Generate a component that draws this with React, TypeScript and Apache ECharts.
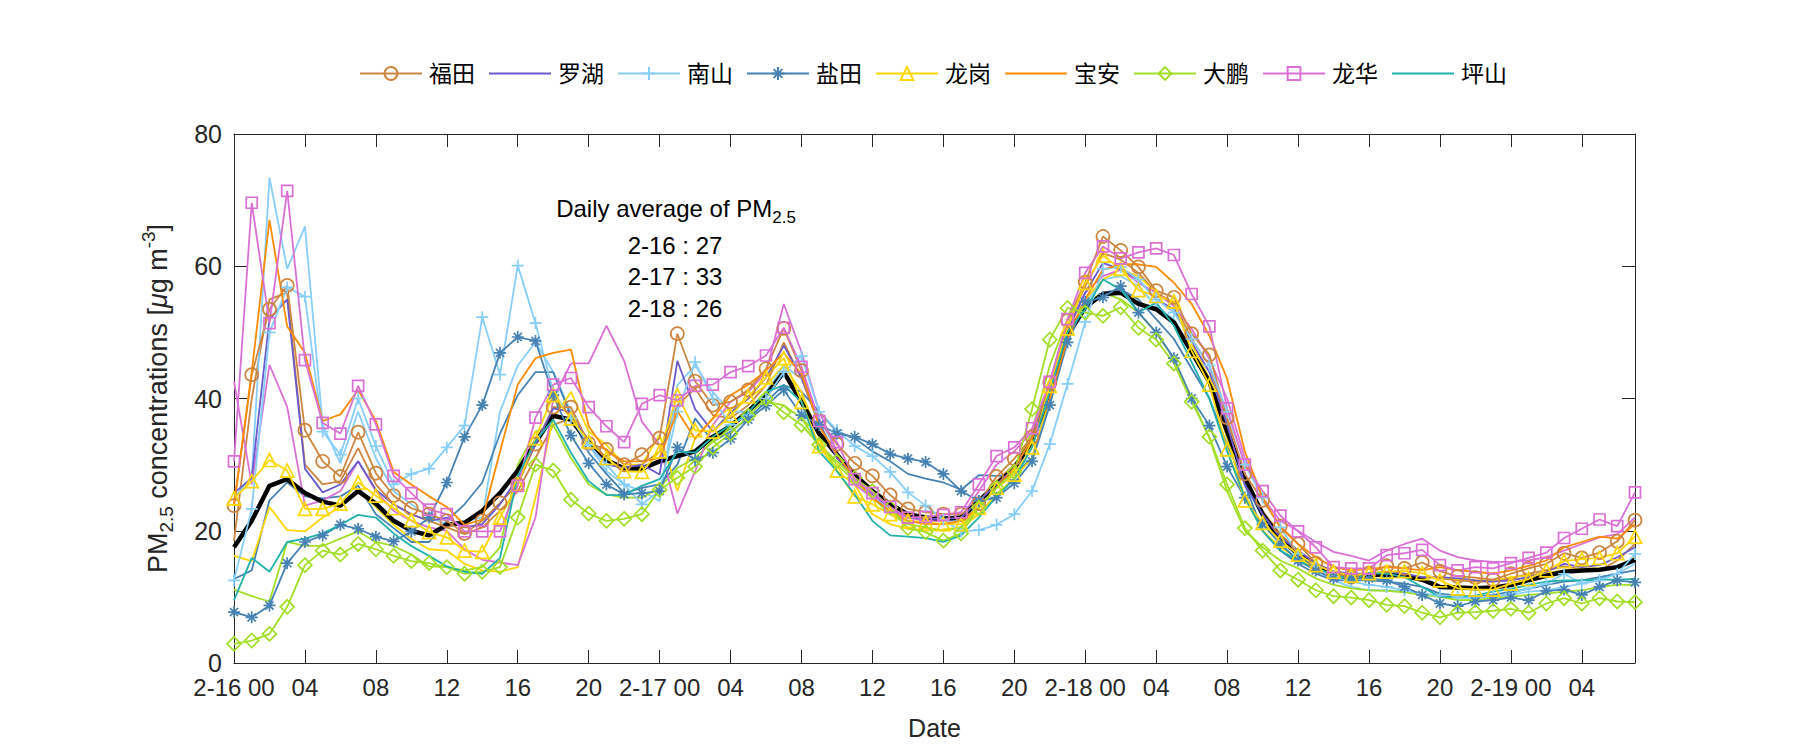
import React, { useEffect, useRef } from 'react';
import * as echarts from 'echarts';

// ---------- data ----------
const hours: number[] = Array.from({ length: 80 }, (_, i) => i);
const xTickLabels = ['2-16 00', '04', '08', '12', '16', '20', '2-17 00', '04', '08', '12', '16', '20', '2-18 00', '04', '08', '12', '16', '20', '2-19 00', '04'];
const legendNames = ['福田', '罗湖', '南山', '盐田', '龙岗', '宝安', '大鹏', '龙华', '坪山'];

const futian = [23.8, 43.6, 53.5, 57.1, 35.2, 30.5, 28.2, 34.9, 28.7, 25.3, 23.4, 22.5,
  21.5, 19.6, 21.5, 24.2, 27, 33.1, 38.7, 38.7, 33.2, 32.3, 30, 31.5,
  34, 49.8, 42.6, 39, 39.5, 41.3, 44.5, 50.6, 44.2, 36.6, 33.1, 30.2,
  28.3, 25.4, 23.3, 22.8, 22.5, 22.5, 24.1, 28.2, 30.9, 34.2, 42.4, 51.8,
  57.6, 64.5, 62.4, 59.9, 56.3, 55.3, 49.8, 46.6, 37.1, 28.6, 24.6, 20.7,
  18, 15.1, 13.5, 13, 13.6, 14.7, 14.3, 15.2, 13.9, 13.1, 12.9, 12.6,
  13.5, 14.3, 15, 16.6, 15.9, 16.7, 18.4, 21.6];
const luohu = [25.7, 28, 52, 55, 29.4, 25.8, 27, 30.5, 26.2, 24, 22.5, 21.5,
  22, 20.5, 21, 24, 28, 33, 38.5, 38, 33, 30, 29.5, 30,
  28.5, 45.7, 38.4, 35, 37.9, 40, 43.2, 48, 43.2, 36.3, 31, 28,
  25.5, 23.5, 22, 21.8, 21.8, 22, 24.5, 27, 29.5, 34, 41, 50.5,
  56, 60.5, 59.5, 58, 55, 53.5, 48.5, 44, 36, 27, 22.5, 19,
  17, 15, 13.8, 13.5, 13.5, 13.8, 13.5, 13, 13, 12.8, 12.5, 12.3,
  12.5, 13, 13.8, 15, 14.5, 14.8, 16, 17.5];
const nanshan = [12.5, 23.3, 50, 56.8, 55.4, 35, 31.5, 40, 32.8, 27, 28.6, 29.4,
  32.6, 35.9, 52.3, 43.6, 60.1, 51.4, 41, 37, 33, 30, 27, 24,
  26, 38, 45.5, 40, 36, 37.5, 40, 44, 46.4, 38, 35.2, 32.8,
  31.3, 28.9, 25.8, 23.8, 21.7, 19.9, 20.1, 20.9, 22.5, 26, 33.1, 42.2,
  51.6, 59.6, 59.9, 58, 55, 53, 49, 45, 38, 30, 25, 20.5,
  16.5, 14.5, 13, 12.3, 11.8, 11.5, 11, 10.5, 10.2, 10, 10, 10,
  10.5, 11.3, 12, 13.5, 12, 12.5, 13.5, 16.5];
const yantian = [7.7, 6.9, 8.7, 15.1, 18.3, 19.3, 20.9, 20.3, 19.1, 18.4, 19.9, 22,
  27.3, 34.2, 39, 46.9, 49.3, 48.7, 40.5, 34.4, 30.2, 27, 25.5, 25.7,
  26, 32.6, 30.7, 31.8, 33.9, 36.8, 38.9, 41.3, 37.5, 36, 34.7, 34.2,
  33.1, 31.6, 30.9, 30.4, 28.6, 26, 24.5, 25, 27.2, 30.5, 39, 48.5,
  54.6, 55.3, 57, 53, 50, 46.1, 40, 35.9, 29.7, 25, 21, 18,
  15.5, 14, 12.8, 12.8, 12.8, 12.5, 11.5, 10.3, 9, 8.6, 9.3, 9.5,
  9.9, 9.5, 10.9, 11.1, 10.3, 11.5, 12.5, 12.2];
const longgang = [24.9, 27.5, 30.7, 29.1, 23.3, 23.3, 24.1, 27.3, 25.3, 23.4, 21.6, 19.8,
  19, 17, 16.8, 22, 27, 34, 40.5, 37, 33.5, 31, 29, 28.9,
  32, 40.5, 35.2, 35, 37.4, 40.3, 43.2, 46.1, 39.5, 32.8, 29.1, 25.2,
  24, 22.5, 21.5, 21.3, 21, 21, 23.5, 26.5, 28.5, 32.6, 41.9, 50.6,
  57.5, 61.6, 59.6, 56.4, 55.5, 54.7, 47.2, 42.1, 32.3, 24.6, 21.2, 18.5,
  16.4, 14.8, 13.8, 13.2, 13.6, 13.8, 13.9, 13.6, 12.5, 11.3, 11.1, 11.1,
  12, 12.7, 14, 15.4, 15.7, 15.9, 16.6, 19.1];
const baoan = [24, 44, 67, 50.9, 46.9, 36.6, 37.6, 41.3, 36.6, 28.9, 27, 25.2,
  23.6, 20.9, 21.7, 32, 42.1, 46.1, 46.9, 47.4, 35.8, 32, 30.5, 30.5,
  31, 38.1, 33.9, 37, 40.5, 42.1, 44.2, 46.9, 43.7, 35.8, 31.5, 28,
  25, 23, 21.5, 21, 21, 21.5, 23.5, 26.5, 29.5, 34, 40, 49,
  55, 59.5, 60.3, 60.3, 59.9, 57.5, 54.3, 49.5, 43, 32, 25, 20.5,
  18, 16, 14.5, 14, 14.2, 14.5, 14.3, 14, 14.5, 14, 13.8, 13.5,
  14, 14.7, 15.5, 17.5, 18.3, 19.1, 18.8, 21];
const dapeng = [2.9, 3.4, 4.4, 8.5, 14.8, 17, 16.4, 18, 17.2, 16.2, 15.4, 15.1,
  14.5, 13.5, 13.8, 14.5, 22, 30, 29.1, 24.7, 22.6, 21.5, 21.8, 22.5,
  26.2, 28, 29.7, 32.6, 34.7, 37.4, 40, 37.9, 36, 33, 30.5, 28,
  26, 23.5, 20.4, 19.8, 18.5, 19.6, 23.5, 26.5, 28.9, 38.4, 48.9, 53.7,
  53, 52.5, 53.8, 50.7, 48.9, 45.3, 39.5, 34.2, 27, 20.4, 17, 14,
  12.6, 11, 10.1, 9.9, 9.5, 8.8, 8.6, 7.6, 6.9, 7.6, 7.7, 7.9,
  8.2, 7.6, 9, 9.8, 9, 9.8, 9.3, 9.2];
const longhua = [30.5, 69.6, 51.4, 71.4, 45.8, 36.3, 34.7, 41.9, 36.1, 28.3, 25.7, 23.2,
  22.5, 19.9, 19.9, 19.9, 26.8, 37.1, 42.1, 43.1, 38.7, 35.8, 33.4, 39.2,
  40.5, 39.7, 41.9, 42.1, 44, 44.9, 46.5, 50.7, 44.8, 36.6, 33.4, 27.8,
  25.7, 23.6, 22, 22.1, 22.4, 22.8, 27, 31.3, 32.6, 35.5, 42.5, 52,
  59, 63, 61.2, 62.1, 62.7, 61.7, 55.8, 50.9, 38.5, 30, 26, 22.3,
  19.9, 17.5, 14.5, 14.3, 14.3, 16.3, 16.6, 17.1, 14.8, 14, 14.5, 14.3,
  15.1, 15.9, 16.7, 18.9, 20.3, 21.7, 20.7, 25.8];
const pingshan = [9.5, 15.9, 13.8, 18.3, 18.8, 19.6, 20.9, 22.4, 22, 19.6, 17.7, 16.2,
  14.6, 13.8, 13.5, 15.9, 28.3, 33.6, 36.8, 31.8, 27.5, 25.4, 25.4, 26.8,
  27.8, 32, 31.8, 34.2, 36, 37.9, 41, 42, 39.5, 32, 29, 25.5,
  21.5, 19.3, 19.1, 18.9, 18.3, 19.3, 22, 25.2, 27.8, 32.6, 41, 50,
  53.5, 58, 56.5, 53, 54.5, 51, 45.5, 40, 32, 25, 20, 17,
  15.5, 14.2, 13.5, 12.5, 13.6, 13.5, 13, 11.5, 10, 10, 10.2, 10.8,
  11.2, 11.8, 12.3, 12.5, 12.5, 12.6, 12.6, 12.7];

// second stations of districts (same colour, no marker, not in legend)
const futian2 = [18.5, 40, 55, 56, 30, 27, 27.5, 32.5, 27, 24, 22.5, 21.5,
  20.5, 19.5, 20.5, 23, 26, 31, 36, 37, 33, 31, 29.5, 30,
  32, 39, 41.5, 37.5, 37, 39, 42, 48.5, 43, 36, 31, 28,
  26, 24, 22.5, 22, 22, 22, 24.5, 27.5, 30, 33.5, 41.5, 51,
  57, 62, 61, 59, 56, 54.5, 49, 45, 36.5, 27, 23, 19.5,
  17, 15, 13.5, 13, 13.3, 13.5, 13.3, 13, 12.8, 12.5, 12.3, 12.3,
  12.8, 13.5, 14, 14.6, 14.2, 14, 15.5, 18];
const nanshan2 = [25, 28, 73.4, 59.6, 66, 36, 30.2, 38, 31, 26, 24, 22,
  21, 21.5, 22, 38, 45, 48.5, 44, 38, 33, 29, 27, 26,
  24.5, 42, 45, 41, 38, 38, 41, 45, 43, 37, 32, 28,
  25, 23.5, 22.5, 22, 21.5, 21.5, 24, 27, 29.5, 31, 40, 49,
  54.5, 58, 58.5, 57, 54, 52, 47, 43, 36, 27, 22, 18.5,
  16, 14, 12.5, 11.5, 11, 11, 10.8, 10.5, 10, 9.8, 9.8, 10,
  10.3, 10.8, 11, 11.5, 12, 12.8, 13.5, 15];
const yantian2 = [12.7, 14, 24.6, 27.3, 25.2, 24.9, 25.2, 26.8, 22.5, 20.4, 18.3, 18.3,
  21.5, 24, 27.3, 34.7, 40.5, 44, 44, 37.4, 31.8, 28.6, 25.7, 26.5,
  27, 30, 37, 33.5, 35, 37, 39.5, 42, 41, 38, 35, 34,
  32, 30.5, 28.6, 27.9, 27.3, 26.2, 28.4, 28.3, 28.5, 31, 40, 49,
  54, 56, 56.5, 55, 52, 49, 44.5, 40, 33, 27, 20, 17,
  15, 13.5, 12.5, 12.5, 12.5, 12.3, 12, 11.5, 10.5, 10.2, 10, 10.3,
  10.8, 11.2, 11.8, 12.3, 12.5, 13, 13.5, 14];
const longgang2 = [16.2, 15.4, 23.6, 20.1, 19.9, 22, 23.6, 26, 23.6, 20.9, 18.8, 17.2,
  17, 15, 14, 13.8, 14.5, 25, 37, 41, 35, 33, 30, 30,
  34.5, 26, 34, 37, 38.5, 40, 42, 45, 41, 34, 29, 27,
  22.5, 21, 20.3, 20, 20.2, 20.5, 22.5, 25.5, 28, 31, 40, 49.5,
  55, 58, 59.5, 58.5, 56, 54, 48.5, 43, 34, 25, 20, 17.5,
  15.8, 14.3, 13.5, 13, 13, 13.2, 13, 12.8, 13, 12.7, 12.5, 12.5,
  13, 13.2, 13.6, 14, 14.3, 14.3, 14.5, 16];
const dapeng2 = [11.1, 10.1, 9.3, 18.3, 17.7, 17.7, 18.8, 19.9, 18.3, 17.7, 16.4, 14.6,
  14.5, 14, 14.5, 17.5, 30, 35, 36, 31, 27, 25.5, 25, 25,
  26.5, 29.5, 31, 33.5, 35.5, 38, 39.5, 39, 37, 33, 30, 27.5,
  25, 22.5, 21, 20.5, 20, 20.5, 23.5, 26.5, 29.5, 35, 45, 52,
  54.5, 56, 55, 53, 50, 46, 40, 34, 26, 20, 17.5, 15.5,
  14.3, 12.8, 11.8, 11.3, 11, 10.9, 10.7, 10.3, 10, 9.5, 9.5, 9.8,
  10, 10.3, 10.5, 10.8, 11, 11.5, 11.8, 11.8];
const longhua2 = [42.6, 27, 45.1, 38.7, 23.8, 24.6, 26, 30.5, 26, 23, 21.5, 20.5,
  20, 17.2, 15.6, 15.2, 14.8, 22, 40, 45.3, 45.3, 51, 45.7, 36.5,
  33, 22.6, 29, 36, 39.5, 41, 44, 54.3, 47, 38, 32, 27,
  25, 23, 22, 21.5, 21.5, 22, 26, 30, 32, 35, 41, 50,
  56, 58.5, 59.5, 57.5, 56, 54, 50.5, 46, 40, 31, 25, 21.5,
  20, 18.3, 16.8, 16.2, 15.5, 17, 18, 18.8, 17, 16, 15.5, 15.3,
  15.3, 15.5, 16, 17, 18, 19, 19.5, 22];
const cityAverage = [17.5, 21.5, 26.8, 27.8, 25.7, 24.4, 23.8, 26, 24.1, 21.5, 20, 19.3,
  20.9, 21.2, 23, 25.7, 29.1, 33.4, 37.4, 36.8, 33.4, 30.7, 29.4, 29.4,
  30.5, 31.3, 32, 34.2, 35.8, 38.1, 40.5, 44, 39.5, 34.7, 31.5, 28.5,
  26, 24, 22.5, 22, 21.8, 22, 24.5, 27, 29.5, 33.5, 41, 49.5,
  53.8, 55.8, 56, 54.3, 53.5, 51.5, 47, 42.5, 35, 28, 22.5, 18.8,
  16.5, 14.8, 13.6, 13.2, 13.3, 13.4, 13.2, 12.6, 11.5, 11.4, 11.3, 11.4,
  11.8, 12.5, 13.2, 13.8, 14, 14.1, 14.5, 15.6];

const annotationLines = ['2-16 : 27', '2-17 : 33', '2-18 : 26'];

// ---------- styles ----------
const FONT = "'Liberation Sans', 'Noto Sans CJK SC', sans-serif";
const AXIS = '#262626';
const C = {
  futian: '#CD853F', luohu: '#6A5ACD', nanshan: '#87CEFA', yantian: '#4682B4',
  longgang: '#FFD700', baoan: '#FF8C00', dapeng: '#A2DE26', longhua: '#DA70D6', pingshan: '#20B2AA',
};
const PLUS = 'path://M0 5L10 5M5 0L5 10';
const STAR = 'path://M0 5L10 5M5 0L5 10M1.6 1.6L8.4 8.4M1.6 8.4L8.4 1.6';

function line(name: string, values: number[], color: string, symbol?: string, size = 12, width = 1.8) {
  return {
    type: 'line',
    name,
    data: values.map((v, i) => [hours[i], v]),
    color,
    symbol: symbol || 'circle',
    showSymbol: !!symbol,
    symbolSize: size,
    lineStyle: { color, width },
    itemStyle: { color: 'transparent', borderColor: color, borderWidth: symbol ? 1.7 : 0 },
    silent: true,
    emphasis: { disabled: true },
    xAxisIndex: 0,
    yAxisIndex: 0,
  };
}

export default function App() {
  const ref = useRef<HTMLDivElement>(null);
  useEffect(() => {
    if (!ref.current) return;
    const chart = echarts.init(ref.current, undefined, { renderer: 'svg' });
    const axisLineStyle = { color: AXIS, width: 1 };
    const option: any = {
      animation: false,
      backgroundColor: '#ffffff',
      grid: { left: 234, right: 165, top: 134, bottom: 87, containLabel: false },
      legend: {
        data: legendNames,
        left: 354,
        top: 57,
        itemWidth: 62,
        itemHeight: 16,
        itemGap: 13,
        textStyle: { fontSize: 23, fontFamily: FONT, color: '#000', padding: [0, 0, 0, 2] },
      },
      xAxis: [
        {
          type: 'value', min: 0, max: 79, interval: 4, position: 'bottom',
          name: 'Date', nameLocation: 'middle', nameGap: 52,
          nameTextStyle: { fontSize: 25, fontFamily: FONT, color: AXIS },
          axisLine: { show: true, onZero: false, lineStyle: axisLineStyle },
          axisTick: { show: true, inside: true, length: 13, lineStyle: axisLineStyle },
          axisLabel: {
            fontSize: 24, fontFamily: FONT, color: AXIS, margin: 12, showMaxLabel: false,
            formatter: (v: number) => (v % 4 === 0 ? xTickLabels[v / 4] || '' : ''),
          },
          splitLine: { show: false },
        },
        {
          type: 'value', min: 0, max: 79, interval: 4, position: 'top',
          axisLine: { show: true, onZero: false, lineStyle: axisLineStyle },
          axisTick: { show: true, inside: true, length: 13, lineStyle: axisLineStyle },
          axisLabel: { show: false },
          splitLine: { show: false },
        },
      ],
      yAxis: [
        {
          type: 'value', min: 0, max: 80, interval: 20, position: 'left',
          name: 'PM{sub|2.5} concentrations [{it|μ}g m{sup|-3}]',
          nameLocation: 'middle', nameGap: 58, nameRotate: 90,
          nameTextStyle: {
            fontSize: 27, fontFamily: FONT, color: AXIS,
            rich: {
              sub: { fontSize: 19, fontFamily: FONT, color: AXIS, padding: [18, 0, 0, 0] },
              sup: { fontSize: 19, fontFamily: FONT, color: AXIS, padding: [0, 0, 18, 0] },
              it: { fontSize: 27, fontFamily: FONT, color: AXIS, fontStyle: 'italic' },
            },
          },
          axisLine: { show: true, onZero: false, lineStyle: axisLineStyle },
          axisTick: { show: true, inside: true, length: 13, lineStyle: axisLineStyle },
          axisLabel: { fontSize: 25, fontFamily: FONT, color: AXIS, margin: 12 },
          splitLine: { show: false },
        },
        {
          type: 'value', min: 0, max: 80, interval: 20, position: 'right',
          axisLine: { show: true, onZero: false, lineStyle: axisLineStyle },
          axisTick: { show: true, inside: true, length: 13, lineStyle: axisLineStyle },
          axisLabel: { show: false },
          splitLine: { show: false },
        },
      ],
      graphic: [
        {
          type: 'text', x: 676, y: 208, silent: true,
          style: {
            text: 'Daily average of PM{sub|2.5}',
            fontSize: 24, fontFamily: FONT, fill: '#000', align: 'center', verticalAlign: 'middle',
            rich: { sub: { fontSize: 17, fontFamily: FONT, fill: '#000', padding: [18, 0, 0, 0] } },
          },
        },
        ...annotationLines.map((t, i) => ({
          type: 'text', x: 675, y: 245 + i * 31.5, silent: true,
          style: { text: t, fontSize: 24, fontFamily: FONT, fill: '#000', align: 'center', verticalAlign: 'middle' },
        })),
      ],
      series: [
        line('福田-2', futian2, C.futian),
        line('南山-2', nanshan2, C.nanshan),
        line('盐田-2', yantian2, C.yantian),
        line('龙岗-2', longgang2, C.longgang),
        line('大鹏-2', dapeng2, C.dapeng),
        line('龙华-2', longhua2, C.longhua),
        line('平均', cityAverage, '#000000', undefined, 0, 4.5),
        line('福田', futian, C.futian, 'circle', 13),
        line('罗湖', luohu, C.luohu),
        line('南山', nanshan, C.nanshan, PLUS, 12),
        line('盐田', yantian, C.yantian, STAR, 12),
        line('龙岗', longgang, C.longgang, 'triangle', 13),
        line('宝安', baoan, C.baoan),
        line('大鹏', dapeng, C.dapeng, 'diamond', 14),
        line('龙华', longhua, C.longhua, 'rect', 11),
        line('坪山', pingshan, C.pingshan),
      ],
    };
    chart.setOption(option);
    return () => chart.dispose();
  }, []);
  return (
    <div
      ref={ref}
      style={{ position: 'fixed', left: 0, top: 0, width: 1800, height: 750, background: '#fff' }}
    />
  );
}
